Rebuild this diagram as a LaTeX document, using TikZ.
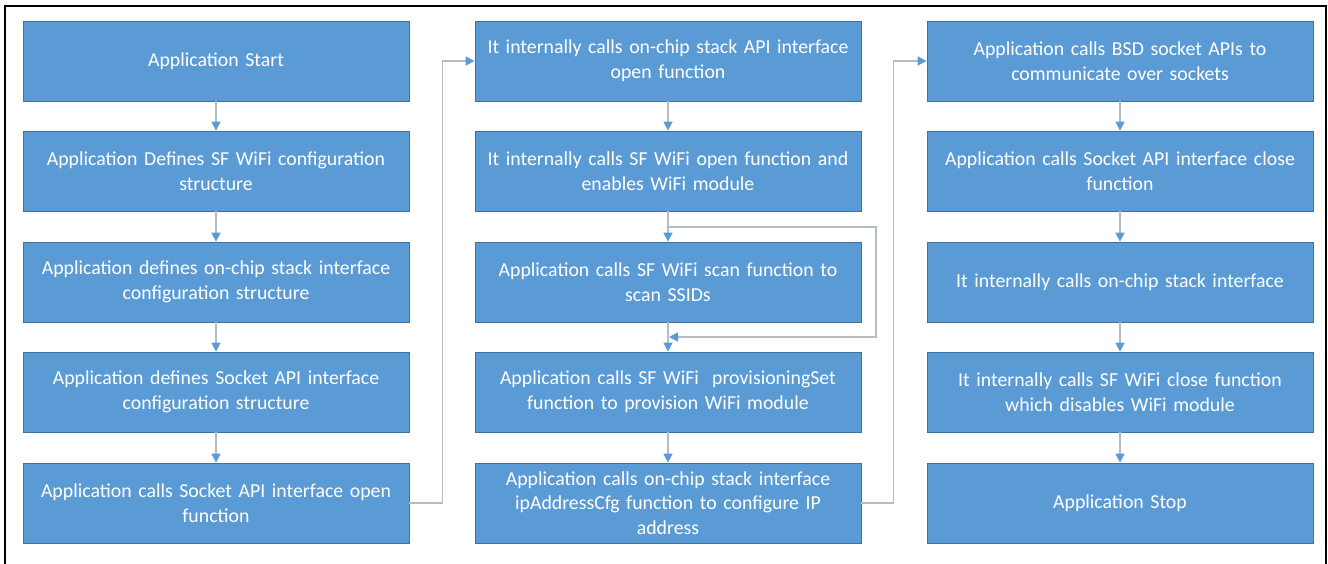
\documentclass[tikz,border=0pt]{standalone}
\usepackage{fontspec}
\setmainfont{Carlito}
\usetikzlibrary{arrows.meta}
\definecolor{boxfill}{HTML}{5B9BD5}
\definecolor{boxline}{HTML}{41719C}
\definecolor{linkgray}{HTML}{B4BCC8}
\definecolor{tipblue}{HTML}{5B9BD5}
\tikzset{
  stepbox/.style={draw=boxline, line width=0.8pt, fill=boxfill, text=white,
    minimum width=386pt, minimum height=80pt, text width=380pt, align=center,
    inner sep=0pt, font=\fontsize{19.8}{24.8}\selectfont},
  flow/.style={draw=linkgray, line width=1.6pt,
    -{Triangle[length=9pt,width=9pt,color=tipblue]}},
}
\begin{document}
\begin{tikzpicture}[x=1pt,y=-1pt]
\useasboundingbox (0,0) rectangle (1328,564);
% outer frame, open at the bottom
\draw[line width=2.6pt] (5,570) -- (5,6) -- (1326,6) -- (1326,570);

% column centres: 216, 668, 1120; row centres: 61, 171, 282, 392, 503
\node[stepbox] (a1) at (216,61)  {Application Start};
\node[stepbox] (a2) at (216,171) {Application Defines SF WiFi configuration\\structure};
\node[stepbox] (a3) at (216,282) {Application defines on-chip stack interface\\configuration structure};
\node[stepbox] (a4) at (216,392) {Application defines Socket API interface\\configuration structure};
\node[stepbox] (a5) at (216,503) {Application calls Socket API interface open\\function};

\node[stepbox] (b1) at (668,61)  {It internally calls on-chip stack API interface\\open function};
\node[stepbox] (b2) at (668,171) {It internally calls SF WiFi open function and\\enables WiFi module};
\node[stepbox] (b3) at (668,282) {Application calls SF WiFi scan function to\\scan SSIDs};
\node[stepbox] (b4) at (668,392) {Application calls SF WiFi\ \ provisioningSet\\function to provision WiFi module};
\node[stepbox] (b5) at (668,503) {Application calls on-chip stack interface\\ipAddressCfg function to configure IP\\address};

\node[stepbox] (c1) at (1120,61)  {Application calls BSD socket APIs to\\communicate over sockets};
\node[stepbox] (c2) at (1120,171) {Application calls Socket API interface close\\function};
\node[stepbox] (c3) at (1120,282) {It internally calls on-chip stack interface};
\node[stepbox] (c4) at (1120,392) {It internally calls SF WiFi close function\\which disables WiFi module};
\node[stepbox] (c5) at (1120,503) {Application Stop};

% straight steps down each column
\foreach \col in {a,b,c}{
  \draw[flow] (\col1) -- (\col2);
  \draw[flow] (\col2) -- (\col3);
  \draw[flow] (\col3) -- (\col4);
  \draw[flow] (\col4) -- (\col5);
}

% jumps from the foot of one column to the head of the next
\draw[flow] (a5.east) -- ++(33,0) |- (b1.west);
\draw[flow] (b5.east) -- ++(32,0) |- (c1.west);

% optional scan: bypass around the scan step
\coordinate (skipA) at (668,227);
\coordinate (skipB) at (876,227);
\coordinate (skipC) at (876,337);
\coordinate (skipD) at (669,337);
\draw[flow] (skipA) -- (skipB) -- (skipC) -- (skipD);
\end{tikzpicture}
\end{document}
